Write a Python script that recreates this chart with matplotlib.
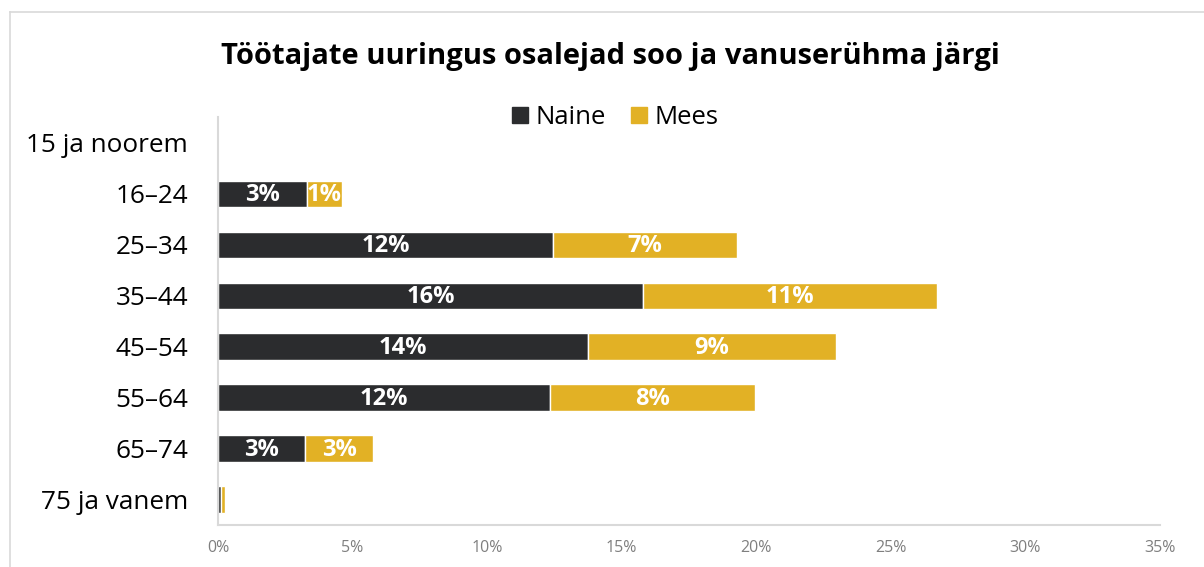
import matplotlib.pyplot as plt
from matplotlib.lines import Line2D
from matplotlib.patches import Patch

plt.rcParams['font.family'] = ['Open Sans', 'DejaVu Sans']

groups = ['15 ja noorem', '16–24', '25–34', '35–44', '45–54', '55–64', '65–74', '75 ja vanem']
naine = [0.0, 3.3, 12.45, 15.8, 13.75, 12.35, 3.25, 0.12]
mees = [0.0, 1.3, 6.85, 10.9, 9.2, 7.6, 2.5, 0.15]
naine_lbl = ['', '3%', '12%', '16%', '14%', '12%', '3%', '']
mees_lbl = ['', '1%', '7%', '11%', '9%', '8%', '3%', '']
ticks = [0, 5, 10, 15, 20, 25, 30, 35]

dark = '#2b2c2e'
gold = '#e2b125'

fig = plt.figure(figsize=(12.04, 5.67), dpi=100)
ax = fig.add_axes([0.181, 0.0741, 0.7825, 0.7187])

y = list(range(len(groups)))
ax.barh(y, naine, height=0.52, color=dark, edgecolor='white', linewidth=1)
ax.barh(y, mees, left=naine, height=0.52, color=gold, edgecolor='white', linewidth=1)

for i in y:
    if naine_lbl[i]:
        ax.text(naine[i] / 2, i + 0.03, naine_lbl[i], ha='center', va='center',
                color='white', fontsize=17, fontweight='bold')
    if mees_lbl[i]:
        ax.text(naine[i] + mees[i] / 2, i + 0.03, mees_lbl[i], ha='center', va='center',
                color='white', fontsize=17, fontweight='bold')

ax.set_ylim(len(groups) - 0.5, -0.5)
ax.set_xlim(0, 35)
ax.set_yticks(y)
ax.set_yticklabels(groups, fontsize=18.8)
ax.set_xticks(ticks)
ax.set_xticklabels([f'{t}%' for t in ticks], fontsize=11.5, color='#7f7f7f')
ax.tick_params(length=0)
ax.tick_params(axis='y', pad=21.5)
ax.tick_params(axis='x', pad=11)
for s in ['top', 'right']:
    ax.spines[s].set_visible(False)
ax.spines['left'].set_color('#d9d9d9')
ax.spines['bottom'].set_color('#d9d9d9')
ax.spines['left'].set_linewidth(1.5)
ax.spines['bottom'].set_linewidth(1.5)

fig.text(0.507, 0.900, 'Töötajate uuringus osalejad soo ja vanuserühma järgi',
         ha='center', va='center', fontsize=21, fontweight='bold')

handles = [Patch(color=dark, label='Naine'), Patch(color=gold, label='Mees')]
fig.legend(handles=handles, loc='center', bbox_to_anchor=(0.511, 0.793), ncol=2,
           frameon=False, fontsize=18.5, handlelength=0.6, handleheight=0.6,
           handletextpad=0.3, columnspacing=1.0)

# outer container border (top and left)
fig.add_artist(Line2D([0.0085, 1.0], [0.979, 0.979], color='#d9d9d9', lw=1.2))
fig.add_artist(Line2D([0.0085, 0.0085], [0.0, 0.979], color='#d9d9d9', lw=1.2))

fig.savefig('out.png', dpi=100)
